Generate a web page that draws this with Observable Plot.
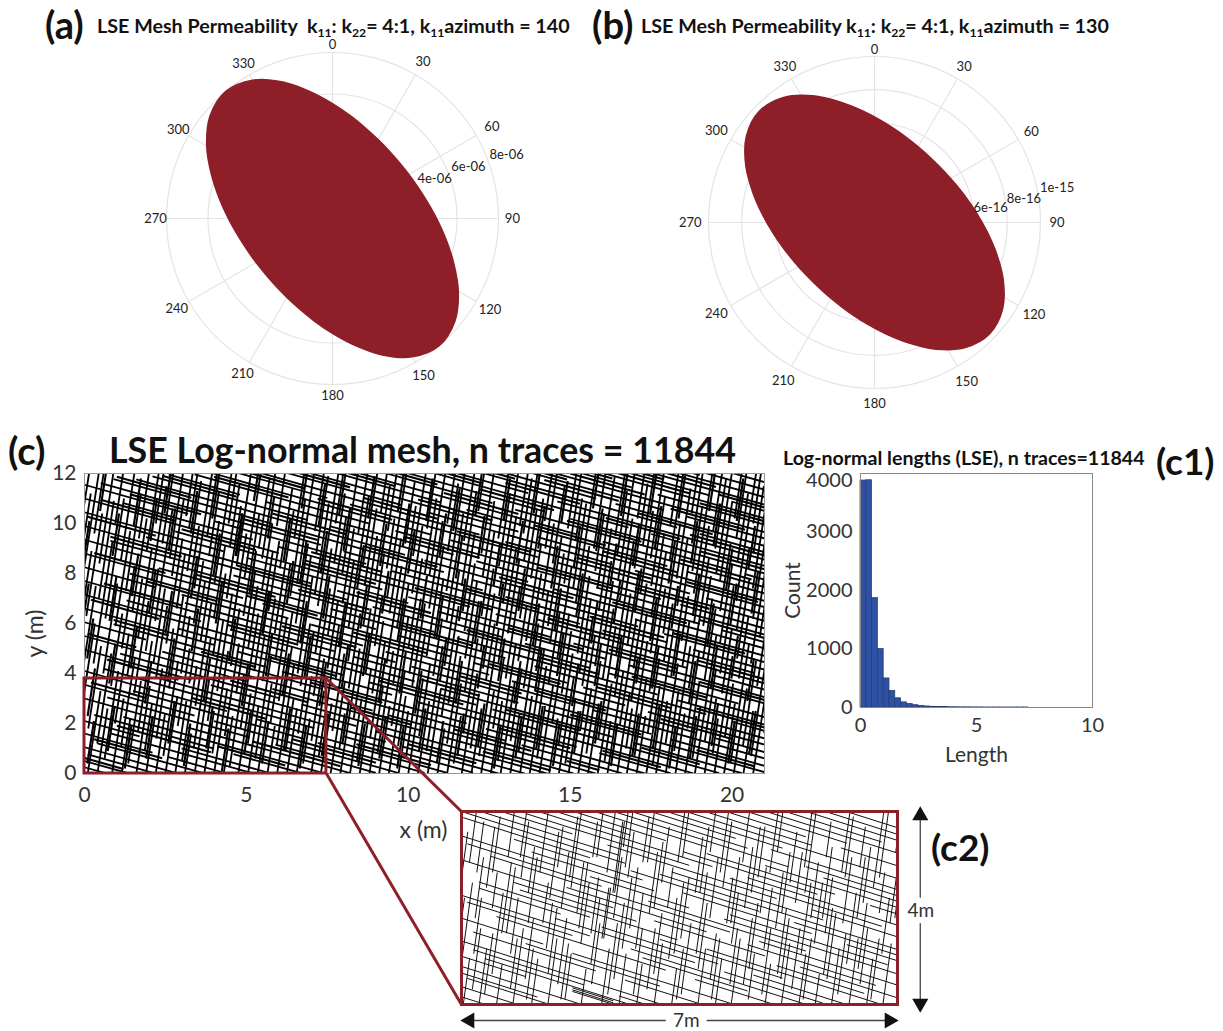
<!DOCTYPE html>
<html><head><meta charset="utf-8">
<script src="https://cdn.jsdelivr.net/npm/d3@7"></script>
<script src="https://cdn.jsdelivr.net/npm/@observablehq/plot@0.6"></script>
<style>
html,body{margin:0;padding:0;background:#fff}
#page{position:relative;width:1223px;height:1031px;overflow:hidden;font-family:Lato,sans-serif;color:#111}
#page>svg{position:absolute;background:transparent}
.t{position:absolute;white-space:pre;font-weight:700;line-height:1;transform:translateY(-50%)}
.t sub{font-size:.62em;vertical-align:-.28em;line-height:0}
</style></head><body><div id="page"></div>
<script>
// ---- Polar panels: outline radii (units 1e-6 and 1e-15)
const azA=[0,10,20,30,40,50,60,70,80,90,100,110,120,130,140,150,160,170,180,190,200,210,220,230,240,250,260,270,280,290,300,310,320,330,340,350];
const radA=[5.54,5.02,4.64,4.39,4.25,4.2,4.25,4.39,4.64,5.02,5.54,6.21,7,7.7,8,7.7,7,6.21,5.54,5.02,4.64,4.39,4.25,4.2,4.25,4.39,4.64,5.02,5.54,6.21,7,7.7,8,7.7,7,6.21];
const azB=[4,14,24,34,44,54,64,74,84,94,104,114,124,134,144,154,164,174,184,194,204,214,224,234,244,254,264,274,284,294,304,314,324,334,344,354];
const radB=[.614,.569,.538,.521,.515,.521,.538,.569,.614,.676,.756,.849,.931,.965,.931,.849,.756,.676,.614,.569,.538,.521,.515,.521,.538,.569,.614,.676,.756,.849,.931,.965,.931,.849,.756,.676];
const spokes=[0,30,60,90,120,150,180,210,240,270,300,330];
const ringAz=[0,15,30,45,60,75,90,105,120,135,150,165,180,195,210,225,240,255,270,285,300,315,330,345];
const ringsA=[2,4,6,8], ringsB=[.2,.4,.6,.8,1];
const labelRA=[8.39,8.72,8.87,8.67,8.77,8.77,8.53,8.67,8.67,8.53,8.58,8.58];
const labelRB=[1.04,1.08,1.09,1.10,1.11,1.11,1.09,1.10,1.10,1.11,1.10,1.08];
const radTicksA=[["4e-06",4.92,1.93],["6e-06",6.55,2.5],["8e-06",8.39,3.08]];
const radTicksB=[["6e-16",.70,.09],["8e-16",.90,.14],["1e-15",1.10,.21]];

// ---- Histogram (c1): counts per 0.25-wide bin
const binWidth=.25;
const counts=[3880,3885,1870,1000,497,285,158,88,62,40,27,18,12,8,6,5,4,3,3,2,2,1,1,1,1,1,1,1,1];

// ---- Mesh (c, c2). NOT the real 11844 traces: these cannot be resolved individually.
// Hand-typed stand-in set matching the two orientations and overall density of the picture.
// longRows: [y at x=0, x start, x end, x start, x end...] along the shallow family
// steepCols: [x at y=0, y start, y end, ...] along the near-vertical family
const longSlope=.364, steepLean=.12;
const longRows=[[.25,0,.7],[.5,0,1.4],[.8,.1,2.2],[1.05,0,2.9],[1.35,.4,3.7],[1.6,0,2.1,2.6,4.4],[1.9,.8,5.2],[2.1,0,1.7,3,5.8],[2.45,.3,4,4.6,6.7],[2.7,1.2,7.4],[3,0,2.6,3.2,8.2],[3.3,.7,5.1,5.9,9],[3.55,0,3.4,4,9.7],[3.85,1.5,6.8,7.2,10.5],[4.1,0,4.4,5.3,11.2],[4.4,.6,7.1,8,12],[4.65,2.2,9.3,9.8,12.8],[4.95,0,3.3,3.9,8.4,9,13.6],[5.2,1.1,6,6.7,14.3],[5.5,0,5,5.8,10.4,11.1,15.1],[5.75,2.4,8.9,9.4,15.8],[6.05,0,1.9,2.7,7.3,8,13,13.5,16.6],[6.3,.9,5.6,6.1,11.8,12.4,17.3],[6.6,0,4,4.7,9.5,10.3,15.2,15.9,18.1],[6.85,2.9,8,8.8,14,14.7,18.8],[7.15,0,6.2,6.9,12.1,12.6,19.6],[7.4,1.3,3.6,4.5,10.2,11,16.3,17,20.3],[7.7,0,7.7,8.3,13.4,14.2,21],[7.95,3.1,9.6,10.1,17.5,18.1,21],[8.25,0,2.2,3,8.6,9.3,15,15.7,21],[8.5,1.4,6.3,7,12.5,13.2,18.9,19.5,21],[8.8,0,4.9,5.5,11.3,12,16.7,17.4,21],[9.05,2.3,9,9.7,14.9,15.4,21],[9.35,0,6.8,7.6,13,13.9,19.2,20,21],[9.6,.8,3.9,4.6,10.8,11.5,17.7,18.3,21],[9.9,0,8.1,8.9,15.6,16.2,21],[10.15,1.9,7,7.8,12.9,13.6,20.2],[10.45,0,4.3,5,10,10.9,16.1,16.8,21],[10.7,2.8,9.2,10,14.4,15.1,21],[11,0,6,6.8,11.9,12.7,18.6,19.4,21],[11.25,1.2,5.2,6,13.3,14,21],[11.55,0,3.2,4,8.7,9.5,15.3,16,20.7],[11.8,.5,7.3,8,12.3,13,18,18.8,21],[12.1,.9,5.8,6.4,11.1,12,17.1,17.9,21],[12.35,1.6,9.9,10.5,16.4,17,21],[12.65,2.1,6.9,7.6,13.7,14.5,21],[12.9,2.6,4.8,5.6,11.4,12.1,19,19.7,21],[13.2,3.4,8.8,9.6,15,15.8,21],[13.45,3.9,10.7,11.3,17.8,18.4,21],[13.75,4.1,7.5,8.2,14,14.6,21],[14,5,12.2,13,18.7,19.2,21],[14.3,5.7,9.8,10.6,16.3,17,21],[14.55,6.2,13.4,14,21],[14.85,7,11,11.8,18,18.6,21],[15.1,7.5,15.2,16,21],[15.4,8.3,12.6,13.3,19.9,20.4,21],[15.65,8.9,14.2,15,21],[15.95,9.6,16.8,17.5,21],[16.2,10.3,13.7,14.6,21],[16.5,11,18.3,19,21],[16.75,11.6,15.8,16.4,21],[17.05,12.3,17.9,18.6,21],[17.3,13,21],[17.6,13.8,16.9,17.7,21],[17.85,14.5,21],[18.15,15.2,19.3,20,21],[18.4,15.9,21],[18.7,16.5,21],[19,17.3,21],[19.3,18.2,21]];
const steepCols=[[-1.3,9,12],[-1.15,7,11.2],[-1,8.1,12],[-.85,5.5,8.9,9.6,12],[-.7,6.3,10.4],[-.55,4.2,7.5,8.4,12],[-.4,3.1,6,7,10.9],[-.25,4.4,9.3,10,12],[-.1,1.8,5.1,6.2,11],[.1,0,3.3,4,7.6,8.5,12],[.25,1.2,4.8,5.9,9.7],[.4,0,2.6,3.5,6.4,7.3,11.2],[.55,.6,4.1,5,8.3,9.4,12],[.7,2,5.6,6.5,10.2],[.85,0,3,3.9,7.8,8.9,12],[1,1.1,4.6,5.4,9,10,12],[1.15,0,2.2,3.2,6.9,7.7,11.5],[1.3,.4,3.7,4.9,8.2,9.2,12],[1.45,1.7,5.3,6.1,10.6],[1.6,0,3.5,4.4,7.4,8.6,12],[1.75,.9,2.8,3.8,6.7,7.9,11],[1.9,0,4.2,5.2,9.4,10.3,12],[2.05,1.4,5.8,6.6,8.8,9.8,12],[2.2,0,2.4,3.4,7.1,8.1,11.7],[2.35,.7,4.5,5.5,9.9],[2.5,0,3.1,4,6.3,7.4,12],[2.65,1.9,5,6,8.5,9.5,12],[2.8,0,2.9,3.6,7.7,8.7,11.3],[2.95,.5,4.3,5.3,10.1],[3.1,0,1.6,2.7,6.8,7.6,12],[3.25,1,5.4,6.2,9.1,10,12],[3.4,0,3.8,4.7,8,9.1,11.6],[3.55,2.1,6.1,7,10.7],[3.7,0,2.5,3.3,7.2,8.3,12],[3.85,.8,4.9,5.7,9.6],[4,0,3.4,4.3,6.6,7.8,12],[4.15,1.5,5.2,6.3,10.4],[4.3,0,2.3,3.2,8.1,9,11.8],[4.45,.3,4,5,7.5,8.6,12],[4.6,1.8,6.4,7.3,10],[4.75,0,3.2,4.1,8.9,9.9,12],[4.9,1.2,5.5,6.5,9.3],[5.05,0,2.7,3.7,7,8.2,11.4],[5.2,.6,4.7,5.6,10.5],[5.35,0,3.6,4.6,8.4,9.4,12],[5.5,2,6.2,7.1,11],[5.65,0,1.9,2.9,6.5,7.6,12],[5.8,1.1,5.1,6,9.2],[5.95,0,4.4,5.2,8.7,9.7,12],[6.1,.9,3,4,7.9,8.8,11.9],[6.25,0,2.6,3.5,6,7.2,10.8],[6.4,1.6,5.7,6.7,12],[6.55,0,3.9,4.8,9,10,12],[6.7,.4,2.2,3.1,7.4,8.4,11.2],[6.85,1.3,4.6,5.5,10.3],[7,0,3.3,4.2,6.9,8,12],[7.15,.7,5.9,6.8,9.8],[7.3,0,2.8,3.8,8.5,9.6,12],[7.45,1.7,4.8,5.8,11.1],[7.6,0,3.7,4.5,7.3,8.3,12],[7.75,1,2.4,3.4,6.4,7.5,10.6],[7.9,0,5,5.9,9.5,10.4,12],[8.05,2.2,6.6,7.7,11.5],[8.2,0,3,4,8.8,9.7,12],[8.35,.5,4.2,5.1,7.1,8.2,10.2],[8.5,0,2.1,3.2,6.1,7,12],[8.65,1.4,5.3,6.4,9.4],[8.8,0,3.5,4.4,8.3,9.2,11.7],[8.95,.8,4.9,5.8,10.7],[9.1,0,2.7,3.6,7.6,8.7,12],[9.25,1.9,6.3,7.2,9.9],[9.4,0,4.1,5,8.6,9.8,12],[9.55,1.1,3.1,4,7,8,11],[9.7,0,2.5,3.5,6.8,7.9,12],[9.85,.6,5.6,6.6,10.1],[10,0,3.8,4.7,9.1,10,12],[10.15,1.5,4.4,5.4,7.8,8.9,11.6],[10.3,0,2.9,3.9,6.2,7.3,12],[10.45,.9,5.1,6.1,10.4],[10.6,0,3.4,4.3,8.1,9.3,12],[10.75,2.3,6.7,7.5,11.3],[10.9,0,1.8,2.8,5.5,6.5,9.6,10.5,12],[11.05,1.2,4.7,5.7,8.4],[11.2,0,3.6,4.6,7.7,8.8,12],[11.35,.4,2.3,3.3,6.9,7.9,10.9],[11.5,1.6,5.4,6.3,9.7],[11.65,0,4,4.9,8.2,9.4,12],[11.8,1,3.2,4.2,7.2,8.3,11.2],[11.95,0,2.6,3.7,6,7.1,12],[12.1,.7,5.8,6.8,10.3],[12.25,0,3.3,4.4,9,9.9,12],[12.4,1.8,4.6,5.6,8.6,9.6,11.8],[12.55,0,2.9,3.8,7.5,8.5,12],[12.7,.5,5.2,6.2,10.6],[12.85,0,3.7,4.5,6.7,7.8,11],[13,1.3,4.2,5.3,9.2,10.1,12],[13.15,0,2.4,3.4,8,9,12],[13.3,.9,6,7,10],[13.45,0,3.1,4.1,7.3,8.4,11.5],[13.6,1.5,5,5.9,9.5],[13.75,0,4.3,5.2,8.8,9.8,12],[13.9,.6,2.7,3.6,6.5,7.6,12],[14.05,0,3.5,4.6,8.3,9.3,11],[14.2,2,6.4,7.4,10.8],[14.35,0,2.2,3.2,5.7,6.8,12],[14.5,1.1,4.8,5.8,9.1],[14.65,0,3.9,4.8,7.9,9,12],[14.8,.4,3,4,7,8.1,10.4],[14.95,0,2.5,3.5,6.3,7.4,11.9],[15.1,1.7,5.5,6.5,9.8],[15.25,0,3.4,4.3,8.5,9.5,12],[15.4,.8,4.5,5.4,7.7,8.7,11.3],[15.55,0,2.8,3.8,6.6,7.7,12],[15.7,1.4,5.9,6.9,10.2],[15.85,0,3.6,4.7,9.3,10.2,12],[16,.5,2.1,3.1,7.2,8.2,11.6],[16.15,0,4.1,5.1,8.1,9.1,12],[16.3,1.9,6.2,7.2,10.5],[16.45,0,3.2,4.2,7.6,8.6,12],[16.6,1,2.6,3.6,6.4,7.5,11.1],[16.75,0,5.3,6.3,9.6],[16.9,.7,3.8,4.8,8.9,9.9,12],[17.05,0,2.3,3.3,7.4,8.5,12],[17.2,1.6,4.6,5.6,10],[17.35,0,3.5,4.5,6.8,7.8,11.4],[17.5,.3,5.7,6.7,9.4,10.4,12],[17.65,0,2.9,3.9,8.3,9.2,12],[17.8,1.2,4.4,5.3,7.1,8.1,10.7],[17.95,0,3.3,4.3,6.1,7.2,12],[18.1,.9,5.1,6,9.9],[18.25,0,2.4,3.4,8.6,9.7,12],[18.4,1.8,4.9,5.9,7.9,9,11.8],[18.55,0,3.7,4.6,7,8,12],[18.7,.6,2.7,3.7,6.6,7.7,10.9],[18.85,0,5.5,6.5,9.2,10.2,12],[19,1.3,4.2,5.2,8.4,9.4,12],[19.15,0,3,4,7.5,8.5,11.2],[19.3,.8,2.2,3.2,5.8,6.9,12],[19.45,0,4.7,5.7,9,10,12],[19.6,1.5,3.6,4.6,7.8,8.8,11.5],[19.75,0,2.8,3.8,6.3,7.4,12],[19.9,.4,5.2,6.2,9.7],[20.05,0,3.4,4.4,8.2,9.2,12],[20.2,1.1,4.5,5.5,7.3,8.3,10.5],[20.35,0,2.5,3.5,6.7,7.8,12],[20.5,.7,5.6,6.6,9.5],[20.65,0,3.9,4.9,8,9,11.7],[20.8,1.6,6,7,10.8]];
// Second, heavier hand-typed layer: short traces that break up the regular grid into clumps
const longRows2=[[.62,0,1.2],[1.48,.3,2.4],[2.27,1,3.9],[2.58,4.1,6.2],[3.17,5.2,7.9],[3.71,.2,1.9,6.4,9],[4.23,3.3,5.6,8.4,10.7],[4.81,.7,2.9,10,12.1],[5.36,4.5,6.9,12.3,14.4],[5.63,.1,1.6,8.2,10.1],[5.92,11.4,13.8,14.9,15.9],[6.18,3.6,5.3,7,9.2],[6.47,.9,2.6,12.8,15],[6.73,5.7,7.8,16,17.8],[7.02,.2,2.3,9.1,11.7],[7.29,13,15.3,17.2,19],[7.55,4.4,6.6,10.4,12.2],[7.82,.6,3,15,17.2,18.9,20.7],[8.11,6.1,8.4,11.6,13.5],[8.38,1.9,4.1,13.9,16.1],[8.66,8.3,10.6,17.8,20],[8.93,.3,2.5,5,7.2,12.5,14.7],[9.21,3.4,5.9,15.8,18.1],[9.48,9.7,12,18.9,21],[9.76,.8,3,6.6,8.8,14,15.9],[10.03,4.7,7,11.8,14.1,16.9,19.2],[10.31,.1,2.2,8.4,10.7],[10.58,13.1,15.4,19,21],[10.86,3,5.3,6.8,9,16.2,18.3],[11.13,.5,2.8,10.2,12.6],[11.41,7,9.2,14.3,16.6,18.9,21],[11.68,1.4,3.6,11.8,14],[11.96,4.9,7.2,15.6,17.9],[12.23,1,3.3,8.6,10.9,18.2,20.4],[12.51,5.8,8.1,12.8,15.1],[12.78,2.4,4.7,16.3,18.6],[13.06,9.9,12.2,19,21],[13.33,4,6.3,14,16.3],[13.61,7.2,9.5,17,19.3],[13.88,4.6,6.8,11.5,13.8],[14.16,8.6,10.9,15.2,17.5],[14.43,6,8.2,18.6,20.8],[14.71,10.3,12.6,16,18.3],[14.98,7.3,9.6,13.9,16.1],[15.26,11.1,13.4,18.4,20.6],[15.53,8.6,10.9,14.9,17.2],[15.81,12.2,14.5,19,21],[16.08,10,12.3,16.1,18.4],[16.36,13,15.3,18.7,21],[16.63,11,13.3,17.1,19.4],[16.91,14.2,16.5],[17.18,12.6,14.9,18.1,20.4],[17.46,15,17.3],[17.73,14,16.3,19,21],[18.01,16.4,18.7],[18.28,15.6,17.9,19.6,21],[18.56,17.2,19.5],[18.86,16.8,19]];
const steepCols2=[[-1.06,8.4,10.1],[-.78,5.9,7.6,10.5,12],[-.47,4.6,6.2],[-.18,2.3,4.2,8.7,10.4],[.04,.4,2.1,6.1,7.9],[.33,3.6,5.2,9.9,11.8],[.61,.9,2.7,7.1,8.8],[.92,4.2,5.9,9.3,11],[1.22,.2,1.9,6.4,8.1,10.4,12],[1.53,2.8,4.5,8.9,10.6],[1.83,.6,2.3,5.6,7.3],[2.13,3.7,5.4,9.6,11.3],[2.44,1.2,2.9,7,8.7],[2.72,4.9,6.6,10.2,12],[3.03,.3,2,7.9,9.6],[3.33,2.9,4.6,6,7.7],[3.62,8.7,10.4],[3.64,1,2.7,8.7,10.4],[3.92,4.5,6.2,10.9,12],[4.23,.1,1.8,7.2,8.9],[4.53,2.7,4.4,9.4,11.1],[4.82,5.6,7.3],[4.84,.8,2.5,5.6,7.3],[5.13,3.9,5.6,8.5,10.2],[5.43,.4,2.1,6.8,8.5,10.6,12],[5.74,3.1,4.8,7.6,9.3],[6.04,.9,2.6,5.2,6.9,9.9,11.6],[6.33,3.8,5.5,8,9.7],[6.62,.2,1.9,6.2,7.9,10.3,12],[6.93,2.7,4.4,8.9,10.6],[7.24,.7,2.4,5.1,6.8],[7.53,3.4,5.1,7.4,9.1,10.2,11.9],[7.82,1.2,2.9,5.8,7.5],[8.13,3.9,5.6,8.3,10],[8.42,.3,2,6.4,8.1,10.5,12],[8.74,2.9,4.6,9.1,10.8],[9.03,.6,2.3,5.3,7,8,9.7],[9.34,3.2,4.9,10.1,11.8],[9.63,.2,1.9,6.2,7.9],[9.92,2.4,4.1,8.7,10.4],[10.22,.9,2.6,5.4,7.1,9.7,11.4],[10.53,3.7,5.4,7.8,9.5],[10.83,.4,2.1,6.1,7.8,10.3,12],[11.12,2.8,4.5,8.6,10.3],[11.43,.7,2.4,5.2,6.9],[11.73,3.4,5.1,7.5,9.2,10.1,11.8],[12.02,1.1,2.8,5.9,7.6],[12.33,3.7,5.4,8.4,10.1],[12.62,.2,1.9,6.5,8.2,10.4,12],[12.93,2.8,4.5,9,10.7],[13.23,.6,2.3,5.1,6.8],[13.52,3.3,5,7.4,9.1,10,11.7],[13.83,1,2.7,5.7,7.4],[14.12,3.9,5.6,8.2,9.9],[14.43,.3,2,6.3,8,10.6,12],[14.73,2.7,4.4,8.9,10.6],[15.02,.8,2.5,5.2,6.9],[15.33,3.5,5.2,7.5,9.2,10.3,12],[15.62,1.2,2.9,6,7.7],[15.93,3.8,5.5,8.3,10],[16.22,.3,2,6.5,8.2,10.4,12],[16.53,2.9,4.6,9,10.7],[16.83,.7,2.4,5.3,7],[17.12,3.4,5.1,7.6,9.3,10.2,11.9],[17.43,1,2.7,5.8,7.5],[17.72,3.9,5.6,8.4,10.1],[18.03,.2,1.9,6.3,8,10.5,12],[18.33,2.8,4.5,9.1,10.8],[18.62,.6,2.3,5.1,6.8],[18.93,3.4,5.1,7.3,9,10.1,11.8],[19.23,1.1,2.8,5.9,7.6],[19.52,3.8,5.5,8.2,9.9],[19.83,.4,2.1,6.4,8.1,10.4,12],[20.12,2.9,4.6,8.9,10.6],[20.43,.8,2.5,5.2,6.9],[20.73,3.5,5.2,7.5,9.2,10.2,11.9]];

// Inset (c2), in the same metres: x 0-7.47, y 0-3.8
const insetLongRows=[[.15,0,.5],[.35,0,1],[.55,.1,1.5],[.75,0,2.1],[.95,0,1.1,1.9,2.6],[.98,1.9,2.6],[1.02,1.9,2.6],[1.05,.4,2.9],[1.25,0,3.4],[1.5,.2,2.3,2.8,4.1],[1.7,0,1.4,1.9,4.7],[1.95,.6,3.5,4,5.3],[2.15,0,2.2,2.9,5.9],[2.4,.3,1.7,2.4,4.4,5,6.6],[2.62,1,3.7,4.2,7.2],[2.85,0,2.6,3.3,5.2,5.8,7.47],[3.1,.5,4.6,5.1,7.47],[3.32,0,1.6,2.2,3.9,4.5,7.47],[3.58,.9,3.1,3.8,6,6.6,7.47],[3.8,0,2.8,3.4,7.47],[4.05,.2,1.9,2.5,5.4,6,7.47],[4.28,1.2,4.3,4.9,7.47],[4.5,1.4,3.5,4.2,6.4,7,7.47],[4.75,2,5.6,6.2,7.47],[4.98,2.6,4.7,5.3,7.47],[5.2,3.3,7.47],[5.45,3.9,5.9,6.5,7.47],[5.7,4.6,7.47],[5.95,5.2,7.47],[6.2,6,7.47],
[.62,0,1.3],[1.15,.2,2.1,2.7,3.4],[1.6,1.1,3.4],[2.05,.1,1.9,3.1,4.9],[2.28,1.6,4,4.5,6.2],[2.52,.3,2.2,3.4,5.5],[2.73,.9,3,5.4,6.9],[2.96,1.8,4.2,4.9,7.1],[3.2,.1,2.4,3.2,5.9],[3.44,1.2,3.3,4.6,7.3],[3.69,.03,2.2,2.9,5.1,5.7,7.47],[3.92,.4,2.7,3.6,6.2],[4.16,1.1,3.9,4.6,7.2],[4.39,1.5,2.9,3.8,6.1],[4.63,1.8,4.2,5.2,7.47],[4.86,2.4,4.9,5.9,7.47],[5.08,3.3,5.5],[5.32,3.6,6],[5.58,4.3,6.6],[5.82,5,7.2],[6.07,5.6,7.47]];
const insetSteepCols=[[-.3,2.3,3.4],[-.2,1.3,2.1,2.8,3.8],[-.1,.9,2.4],[.03,0,.9,1.7,2.9],[.15,.3,1.5,2.3,3.5],[.3,0,1.1,1.9,2.6],[.45,.6,2.2,2.9,3.8],[.6,0,.8,1.4,2.7],[.72,1,2.1,2.5,3.6],[.88,0,1.5,2.2,3.1],[1.03,.5,1.7,2.6,3.8],[1.2,0,.9,1.6,2.4],[1.32,1.1,2,2.7,3.5],[1.48,0,1.3,1.9,3],[1.6,.4,1.7,2.3,3.8],[1.76,.1,1,1.8,2.8],[1.9,1.2,2.4,2.9,3.6],[2.05,0,.7,1.4,2.5],[2.18,.4,1.6,2.6,3.8],[2.25,1.3,2.3],[2.28,1.3,2.3],[2.33,2.2,3.6],[2.36,2.2,3.6],[2.4,0,1.1,1.7,2.9,3.1,3.8],[2.55,.5,2,2.5,3.4],[2.7,0,1,1.5,2.7],[2.85,1.1,2.2,2.8,3.8],[3,0,.8,1.8,3],[3.14,.3,1.5,2.4,3.5],[3.3,0,1.2,1.9,2.7],[3.44,.9,2.1,2.9,3.8],[3.6,0,.7,1.3,2.5],[3.74,.2,1.6,2.2,3.3],[3.9,1,2.6,3,3.8],[4.05,0,1.1,1.7,2.9],[4.2,.5,1.4,2.3,3.6],[4.35,0,.9,1.6,2.5],[4.48,1.2,2.2,2.8,3.8],[4.62,0,1.3,1.9,3.1],[4.78,.4,1.7,2.5,3.5],[4.9,.1,1,1.8,2.7],[5.05,1.1,2.3,3,3.8],[5.2,0,.8,1.5,2.6],[5.34,.6,1.9,2.4,3.4],[5.48,0,1.2,2,3],[5.62,.3,1.5,2.2,3.8],[5.78,0,1,1.7,2.8],[5.9,1.2,2.4,2.9,3.6],[6.06,0,.6,1.4,2.5],[6.2,.5,1.8,2.6,3.8],[6.34,0,1.1,1.6,2.9],[6.5,.8,2.2,2.7,3.5],[6.64,0,1.3,2,3.1],[6.78,.4,1.5,2.3,3.8],[6.94,0,.9,1.8,2.6],[7.08,1,2.1,3,3.7],[7.22,0,1.2,1.7,2.9],
[-.25,.9,2],[-.05,2.6,3.6],[.09,1,2.1],[.22,2.6,3.7],[.37,.2,1.4],[.52,1.4,2.8],[.66,2.9,3.8],[.8,.3,1.3],[.95,1.6,2.9],[1.1,.1,1.1],[1.26,2.1,3.4],[1.41,.6,1.9],[1.55,2.5,3.7],[1.69,.1,1.2],[1.83,1.5,2.8],[1.97,2.9,3.8],[2.12,.8,2.1],[2.48,.2,1.6,2.7,3.8],[2.62,1.1,2.5],[2.77,2.8,3.7],[2.92,.2,1.5],[3.07,1.9,3.2],[3.22,.6,1.8],[3.37,2.8,3.8],[3.52,1,2.4],[3.67,.1,1.1],[3.82,2.2,3.5],[3.97,.7,2],[4.12,2.6,3.8],[4.27,.1,1.3],[4.42,1.6,2.9],[4.55,.4,1.5],[4.7,2.2,3.5],[4.84,.7,2],[4.97,2.6,3.8],[5.12,.2,1.5],[5.27,1.8,3],[5.41,.5,1.7],[5.55,2.7,3.8],[5.7,1,2.4],[5.84,.1,1.3],[5.98,1.7,3.1],[6.13,.6,1.9],[6.27,2.5,3.7],[6.42,.2,1.4],[6.57,1.7,2.9],[6.71,.7,2],[6.86,2.5,3.8],[7,.1,1.3],[7.15,1.6,2.9]];

// ---- Text
const titleA='LSE Mesh Permeability  k<sub>11</sub>: k<sub>22</sub>= 4:1, k<sub>11</sub>azimuth = 140';
const titleB='LSE Mesh Permeability k<sub>11</sub>: k<sub>22</sub>= 4:1, k<sub>11</sub>azimuth = 130';
const texts=[["(a)",45,24,38],[titleA,97,26,19.7],["(b)",592,24,38],[titleB,641,26,19.7],["(c)",8,450,38],["LSE Log-normal mesh, n traces = 11844",109,450,35.8],["Log-normal lengths (LSE), n traces=11844",783,458,19.6],["(c1)",1156,460,37],["(c2)",931,846,37]];

// ---- Helpers
const page=document.getElementById("page");
const rad=a=>a*Math.PI/180;
const pt=(a,r)=>({x:r*Math.sin(rad(a)),y:r*Math.cos(rad(a))});
const place=(svg,l,t)=>{svg.style.left=l+"px";svg.style.top=t+"px";page.appendChild(svg)};
const toLong=rows=>rows.flatMap(([y0,...p])=>d3.range(0,p.length,2).map(i=>({x1:p[i],y1:y0-longSlope*p[i],x2:p[i+1],y2:y0-longSlope*p[i+1]})));
const toSteep=cols=>cols.flatMap(([x0,...p])=>d3.range(0,p.length,2).map(i=>({x1:x0+steepLean*p[i],y1:p[i],x2:x0+steepLean*p[i+1],y2:p[i+1]})));
const ink="#333";

function polar(az,radii,rings,outer,labelR,radTicks){
  const k=outer/166;
  const spokeData=spokes.map(a=>({a,p:pt(a,outer)}));
  return Plot.plot({width:420,height:400,margin:0,
    x:{domain:[-210*k,210*k],axis:null},y:{domain:[-200*k,200*k],axis:null},
    style:{fontFamily:"Lato,sans-serif",background:"transparent"},
    marks:[
      ...rings.map(r=>Plot.line(ringAz.map(a=>pt(a,r)),{x:"x",y:"y",curve:"catmull-rom-closed",stroke:"#e4e4e4",strokeWidth:1.2})),
      Plot.link(spokeData,{x1:()=>0,y1:()=>0,x2:d=>d.p.x,y2:d=>d.p.y,stroke:"#e4e4e4",strokeWidth:1.2}),
      Plot.line(az.map((a,i)=>pt(a,radii[i])),{x:"x",y:"y",curve:"catmull-rom-closed",fill:"#8e1f28",stroke:"#8e1f28"}),
      Plot.text(spokes.map((a,i)=>({a,...pt(a,labelR[i])})),{x:"x",y:"y",text:d=>String(d.a),fontSize:13,fill:"#222"}),
      Plot.text(radTicks,{x:d=>d[1],y:d=>d[2],text:d=>d[0],fontSize:13,fill:"#222"})
    ]});
}
place(polar(azA,radA,ringsA,8,labelRA,radTicksA),332-210,218-200);
place(polar(azB,radB,ringsB,1,labelRB,radTicksB),874-210,221.5-200);

// ---- Main mesh
const insetTraces=[...toLong(insetLongRows),...toSteep(insetSteepCols)];
const meshTraces=[...toLong(longRows),...toSteep(steepCols)];
const meshHeavy=[...toLong(longRows2),...toSteep(steepCols2)];
const boxW=7.47, boxH=3.8;
const connectors=[{x1:boxW,y1:boxH,x2:11.64,y2:-1.52},{x1:boxW,y1:0,x2:11.64,y2:-9.24}];
const red="#8e1f28";
place(Plot.plot({width:1223,height:601,marginLeft:84,marginRight:459,marginTop:43,marginBottom:258,
  x:{domain:[0,21]},y:{domain:[0,12]},
  style:{fontFamily:"Lato,sans-serif",background:"transparent",color:ink},
  marks:[
    Plot.link(meshTraces,{x1:"x1",y1:"y1",x2:"x2",y2:"y2",stroke:"#000",strokeWidth:1.8,clip:true}),
    Plot.link(meshHeavy,{x1:"x1",y1:"y1",x2:"x2",y2:"y2",stroke:"#000",strokeWidth:2.1,clip:true}),
    Plot.frame({stroke:"#999"}),
    Plot.axisX({ticks:[0,5,10,15,20],tickSize:0,tickPadding:14,fontSize:21,label:null}),
    Plot.axisY({ticks:[0,2,4,6,8,10,12],tickSize:0,tickPadding:8,fontSize:21,label:null}),
    Plot.text([{x:-1.51,y:5.6,t:"y (m)"}],{x:"x",y:"y",text:"t",rotate:-90,fontSize:23}),
    Plot.text([{x:10.47,y:-2.28,t:"x (m)"}],{x:"x",y:"y",text:"t",fontSize:23}),
    Plot.rect([{x1:0,x2:boxW,y1:0,y2:boxH}],{x1:"x1",x2:"x2",y1:"y1",y2:"y2",fill:"none",stroke:red,strokeWidth:3}),
    Plot.link(connectors,{x1:"x1",y1:"y1",x2:"x2",y2:"y2",stroke:red,strokeWidth:3})
  ]}),0,430);

// ---- Inset
const shafts=[{x1:3.5,y1:-.315,x2:.14,y2:-.315},{x1:4.2,y1:-.315,x2:boxW-.14,y2:-.315},{x1:boxW+.39,y1:2.1,x2:boxW+.39,y2:boxH-.1},{x1:boxW+.39,y1:1.6,x2:boxW+.39,y2:.04}];
const tips=[{x:.14,y:-.315,r:-90},{x:boxW-.14,y:-.315,r:90},{x:boxW+.39,y:boxH-.08,r:0},{x:boxW+.39,y:.02,r:180}];
place(Plot.plot({width:520,height:231,marginLeft:21,marginRight:63,marginTop:11,marginBottom:27,
  x:{domain:[0,boxW],axis:null},y:{domain:[0,boxH],axis:null},
  style:{fontFamily:"Lato,sans-serif",background:"transparent",color:ink},
  marks:[
    Plot.link(insetTraces,{x1:"x1",y1:"y1",x2:"x2",y2:"y2",stroke:"#111",strokeWidth:1,clip:true}),
    Plot.frame({stroke:red,strokeWidth:3}),
    Plot.link(shafts,{x1:"x1",y1:"y1",x2:"x2",y2:"y2",stroke:"#444",strokeWidth:1.3}),
    Plot.dot(tips,{x:"x",y:"y",rotate:"r",symbol:"triangle",r:6,fill:"#111"}),
    Plot.text([{x:3.85,y:-.315,t:"7m"},{x:boxW+.4,y:1.85,t:"4m"}],{x:"x",y:"y",text:"t",fontSize:19})
  ]}),440,800);

// ---- Histogram
place(Plot.plot({width:340,height:330,marginLeft:80,marginRight:28,marginTop:33,marginBottom:63,
  x:{domain:[0,10]},y:{domain:[0,4000]},
  style:{fontFamily:"Lato,sans-serif",background:"transparent",color:ink},
  marks:[
    Plot.rectY(counts,{x1:(d,i)=>i*binWidth,x2:(d,i)=>(i+1)*binWidth,y:d=>d,fill:"#2f51a3",stroke:"#2b3a66",strokeWidth:.7}),
    Plot.frame({stroke:"#888"}),
    Plot.axisX({ticks:[0,5,10],tickSize:0,tickPadding:10,fontSize:20,label:null}),
    Plot.axisY({ticks:[0,1000,2000,3000],tickFormat:d=>String(d),tickSize:0,tickPadding:8,fontSize:20,label:null}),
    Plot.text([{x:0,y:3880,t:"4000"}],{x:"x",y:"y",text:"t",textAnchor:"end",dx:-8,fontSize:20}),
    Plot.text([{x:5,y:-820,t:"Length"}],{x:"x",y:"y",text:"t",fontSize:21}),
    Plot.text([{x:-2.9,y:2000,t:"Count"}],{x:"x",y:"y",text:"t",rotate:-90,fontSize:21})
  ]}),780,440);

// ---- Titles
for(const [h,x,y,s] of texts){
  const d=document.createElement("div");d.className="t";d.innerHTML=h;
  d.style.left=x+"px";d.style.top=y+"px";d.style.fontSize=s+"px";page.appendChild(d);
}
</script></body></html>
